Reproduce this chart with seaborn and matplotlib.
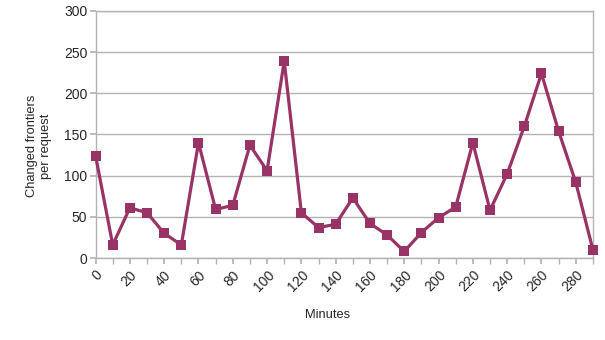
import pandas as pd
import matplotlib.pyplot as plt
import seaborn as sns

# --- dados ---
minutos = [0, 10, 20, 30, 40, 50, 60, 70, 80, 90, 100, 110, 120, 130, 140,
           150, 160, 170, 180, 190, 200, 210, 220, 230, 240, 250, 260, 270, 280, 290]
fronteiras = [124, 16, 61, 55, 30, 16, 140, 59, 64, 137, 106, 239, 55, 37, 41,
              73, 42, 28, 8, 31, 49, 62, 140, 58, 102, 160, 224, 154, 92, 10]
ticks_x = list(range(0, 290, 20))
ticks_y = [0, 50, 100, 150, 200, 250, 300]

COR = "#993366"
CINZA = "#b3b3b3"

sns.set_theme(style="white")
plt.rcParams['font.family'] = ['Liberation Sans', 'DejaVu Sans']

df = pd.DataFrame({'Minutes': minutos, 'Frontiers': fronteiras})

fig = plt.figure(figsize=(6.05, 3.4), dpi=100)
ax = fig.add_axes([0.158, 0.241, 0.822, 0.727])

sns.lineplot(data=df, x='Minutes', y='Frontiers', ax=ax, color=COR,
             linewidth=2.3, marker='s', markersize=7.5, markeredgewidth=0,
             clip_on=False, zorder=3)

ax.set_xlim(0, 290)
ax.set_ylim(0, 300)
ax.set_yticks(ticks_y)
ax.set_xticks(ticks_x)
ax.set_xticks(minutos, minor=True)
ax.set_xticklabels([str(t) for t in ticks_x], rotation=45, ha='right',
                   rotation_mode='anchor', fontsize=10)
ax.set_yticklabels([str(t) for t in ticks_y], fontsize=10)

ax.yaxis.grid(True, color=CINZA, linewidth=1)
ax.set_axisbelow(True)
for lado in ['left', 'right', 'bottom', 'top']:
    ax.spines[lado].set_color(CINZA)
    ax.spines[lado].set_linewidth(1)
ax.tick_params(axis='x', which='both', length=4, color=CINZA, bottom=True, pad=3)
ax.tick_params(axis='y', length=4, color=CINZA, left=True, pad=2)

ax.set_xlabel('Minutes', fontsize=9.3)
ax.set_ylabel('Changed frontiers\nper request', fontsize=9.3)
ax.xaxis.set_label_coords(0.467, -0.205)
ax.yaxis.set_label_coords(-0.088, 0.453)

fig.savefig('out.png', dpi=100)
